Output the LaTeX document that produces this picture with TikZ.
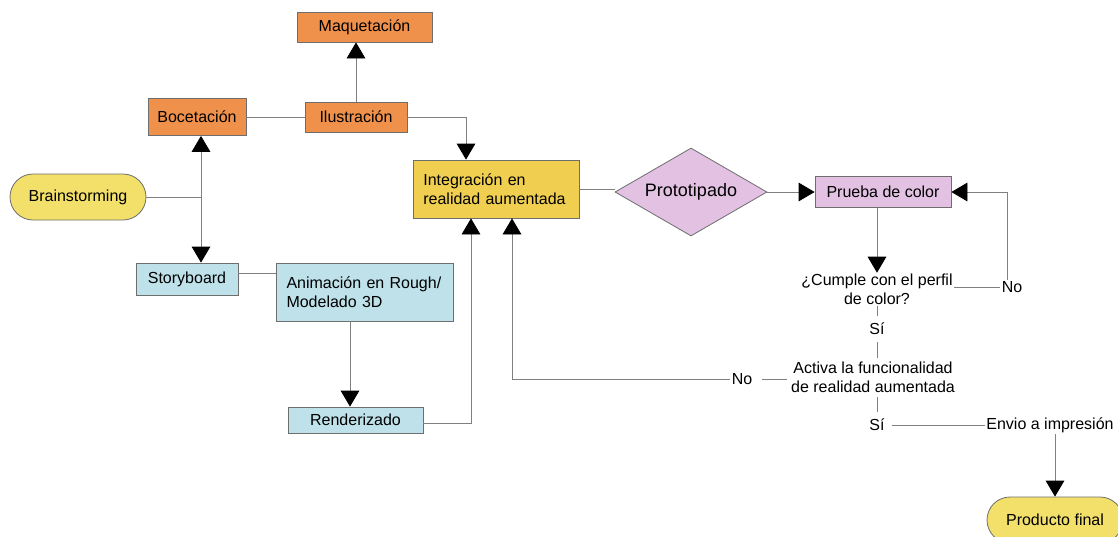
\documentclass[tikz,border=0pt]{standalone}
\usepackage{fontspec}
\setmainfont{Liberation Sans}
\usetikzlibrary{arrows.meta,shapes.geometric,shapes.misc}
\definecolor{naranja}{RGB}{240,145,75}
\definecolor{amarillo}{RGB}{243,224,106}
\definecolor{dorado}{RGB}{240,207,80}
\definecolor{lila}{RGB}{226,193,226}
\definecolor{celeste}{RGB}{190,225,234}
\definecolor{borde}{RGB}{110,110,110}
\definecolor{linea}{RGB}{128,128,128}
\begin{document}
\begin{tikzpicture}[x=0.75pt,y=0.75pt,yscale=-1,xscale=1,
  font=\fontsize{12}{14}\selectfont,
  caja/.style={draw=borde,line width=0.6pt,inner sep=0pt,align=center},
  ovalo/.style={draw=borde,line width=0.6pt,rounded rectangle,inner sep=0pt,fill=amarillo},
  texto/.style={inner sep=1pt,align=center},
  linea/.style={draw=linea,line width=0.6pt},
  flecha/.style={linea,-{Triangle[length=12pt,width=14pt,color=black]}},
  dflecha/.style={linea,{Triangle[length=12pt,width=14pt,color=black]}-{Triangle[length=12pt,width=14pt,color=black]}}]
    \useasboundingbox (0,0) rectangle (1118,536);

    % Boxes
    \node [caja,fill=naranja,minimum width=101.25pt,minimum height=22.5pt] (maq) at (364.5,27) {Maquetación};
    \node [caja,fill=naranja,minimum width=73.5pt,minimum height=27.75pt] (boc) at (197,117) {Bocetación};
    \node [caja,fill=naranja,minimum width=76.5pt,minimum height=22.5pt] (ilu) at (356,117) {Ilustración};
    \node [ovalo,minimum width=102pt,minimum height=34.5pt] (brain) at (78,197) {Brainstorming};
    \node [caja,fill=celeste,minimum width=76.5pt,minimum height=24pt] (sb) at (187,279) {Storyboard};
    \node [caja,fill=celeste,minimum width=132.75pt,minimum height=43.5pt,align=left,text width=117pt] (anim) at (364.5,292) {Animación en Rough/\\Modelado 3D};
    \node [caja,fill=celeste,minimum width=101.25pt,minimum height=19.5pt] (ren) at (355.5,420) {Renderizado};
    \node [caja,fill=dorado,minimum width=124.5pt,minimum height=43.5pt,align=left,text width=109pt] (int) at (496,189) {Integración en\\realidad aumentada};
    \node [draw=borde,line width=0.6pt,diamond,aspect=1.5,fill=lila,inner sep=0pt,minimum width=114pt,minimum height=66pt,font=\fontsize{13.5}{16}\selectfont] (proto) at (691,192) {Prototipado};
    \node [caja,fill=lila,minimum width=102pt,minimum height=23.25pt] (pc) at (883,192) {Prueba de color};
    \node [ovalo,minimum width=102pt,minimum height=34.5pt] (prod) at (1055,520) {Producto final};

    % Text Node
    \node [texto] (cum) at (877,289.5) {¿Cumple con el perfil\\de color?};
    \node [texto] (no1) at (1012,287) {No};
    \node [texto,inner sep=5pt] (si1) at (877,329) {Sí};
    \node [texto,inner sep=3pt] (act) at (873,377.5) {Activa la funcionalidad\\de realidad aumentada};
    \node [texto,inner sep=1pt] (no2) at (742,379) {No};
    \node [texto,inner sep=5pt] (si2) at (877,425) {Sí};
    \node [texto] (env) at (1050,425) {Envio a impresión};

    \coordinate (jun) at (201,197);

    % Connectors
    \draw [flecha] (ilu.north) -- (ilu.north |- maq.south);
    \draw [linea] (boc.east) -- (ilu.west);
    \draw [flecha] (ilu.east) -| (int.north -| 466,0);
    \draw [linea] (brain.east) -- (jun);
    \draw [dflecha] (jun |- boc.south) -- (jun |- sb.north);
    \draw [linea] ([yshift=-4.5pt]sb.east) -- ([yshift=-4.5pt]sb.east -| anim.west);
    \draw [flecha] (anim.south -| 350,0) -- (ren.north -| 350,0);
    \draw [flecha] (ren.east |- 0,423) -| (int.south -| 471,0);
    \draw [linea] (int.east) -- (int.east -| proto.west);
    \draw [flecha] (proto.east) -- (pc.west);
    \draw [flecha] (pc.south -| cum.north) -- (cum.north);
    \draw [linea] (no1.west -| cum.east) -- (no1.west);
    \draw [flecha] (no1.north -| 1007,0) |- (pc.east);
    \draw [linea] (cum.south -| si1.north) -- (si1.north);
    \draw [linea] (si1.south) -- (si1.south |- act.north);
    \draw [linea] (act.west |- no2.east) -- ([xshift=6pt]no2.east);
    \draw [flecha] (no2.west) -| (int.south -| 512,0);
    \draw [linea] (act.south -| si2.north) -- (si2.north);
    \draw [linea] (si2.east) -- (env.west);
    \draw [flecha] (prod.north |- env.south) -- (prod.north);

\end{tikzpicture}
\end{document}
